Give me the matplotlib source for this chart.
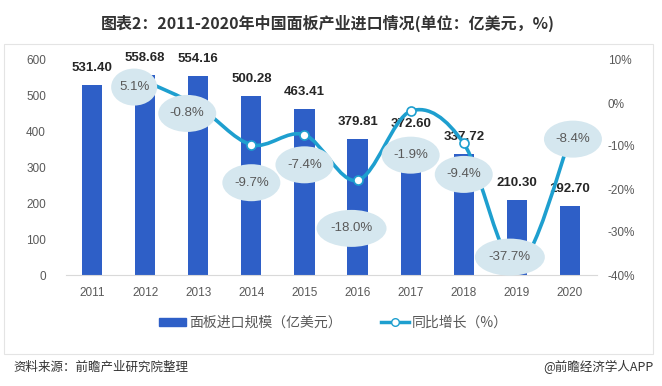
import matplotlib
matplotlib.use("Agg")
import matplotlib.pyplot as plt
from matplotlib.path import Path
from matplotlib.patches import PathPatch, Rectangle, Ellipse
from matplotlib.lines import Line2D
from matplotlib.ticker import FuncFormatter

plt.rcParams['font.family'] = ['Liberation Sans', 'Noto Sans CJK SC', 'DejaVu Sans']

# ---------------- data ----------------
years = ['2011', '2012', '2013', '2014', '2015', '2016', '2017', '2018', '2019', '2020']
import_scale = [531.40, 558.68, 554.16, 500.28, 463.41, 379.81, 372.60, 337.72, 210.30, 192.70]
growth_years = ['2012', '2013', '2014', '2015', '2016', '2017', '2018', '2019', '2020']
growth = [5.1, -0.8, -9.7, -7.4, -18.0, -1.9, -9.4, -37.7, -8.4]

# label offsets (pixels) of the growth bubbles relative to their points
bubble_offsets = [(-11, -6), (-11, -7), (0, -38), (0, -30), (-6, -48),
                  (0, -44), (0, -31), (-7, 8), (3, 0)]

BAR_C = '#2E5FC7'
LINE_C = '#1E9FCF'
BUBBLE_C = '#D5E7EF'
TXT_C = '#595959'

W, H = 662, 386
fig = plt.figure(figsize=(W / 100, H / 100), dpi=100)

# panel frame
fig.patches.append(Rectangle((4 / W, 1 - 354 / H), 649 / W, 310 / H,
                             transform=fig.transFigure, fill=False,
                             ec='#e4e4e4', lw=0.8))

ax = fig.add_axes([65.5 / W, 1 - 275 / H, 531 / W, 215 / H])
ax2 = ax.twinx()

x = list(range(len(years)))
ax.bar(x, import_scale, width=0.38, color=BAR_C, zorder=2)
ax.set_xlim(-0.5, len(years) - 0.5)
ax.set_ylim(0, 600)
ax.set_yticks(range(0, 601, 100))
ax.set_xticks(x)
ax.set_xticklabels(years)
ax.tick_params(axis='both', length=0, colors=TXT_C, labelsize=8.5)
ax.tick_params(axis='y', pad=14)
ax.tick_params(axis='x', pad=9)
for s in ['top', 'left', 'right']:
    ax.spines[s].set_visible(False)
ax.spines['bottom'].set_color('#d9d9d9')

for xi, v in zip(x, import_scale):
    ax.annotate(f'{v:.2f}', (xi, v), xytext=(0, 17), textcoords='offset pixels',
                ha='center', va='center', fontsize=9.5, fontweight='bold',
                color='#262626', zorder=3)

# growth line (smoothed, Excel-like)
ax2.set_ylim(-40, 10)
ax2.set_yticks(range(-40, 11, 10))
ax2.yaxis.set_major_formatter(FuncFormatter(lambda v, p: f'{v:.0f}%'))
ax2.tick_params(axis='y', length=0, colors=TXT_C, labelsize=8.5, pad=8)
for s in ['top', 'left', 'right', 'bottom']:
    ax2.spines[s].set_visible(False)

gx = [years.index(y) for y in growth_years]
pts = list(zip(gx, growth))
n = len(pts)
verts = [pts[0]]
codes = [Path.MOVETO]
for i in range(n - 1):
    p0 = pts[i - 1] if i > 0 else pts[i]
    p1 = pts[i]
    p2 = pts[i + 1]
    p3 = pts[i + 2] if i + 2 < n else pts[i + 1]
    c1 = (p1[0] + (p2[0] - p0[0]) / 6, p1[1] + (p2[1] - p0[1]) / 6)
    c2 = (p2[0] - (p3[0] - p1[0]) / 6, p2[1] - (p3[1] - p1[1]) / 6)
    verts += [c1, c2, p2]
    codes += [Path.CURVE4] * 3
ax2.add_patch(PathPatch(Path(verts, codes), fill=False, ec=LINE_C, lw=2.6,
                        zorder=4, capstyle='round', joinstyle='round',
                        clip_on=False))
ax2.plot(gx, growth, ls='none', marker='o', ms=6.5, mfc='white', mec=LINE_C,
         mew=1.2, zorder=5, clip_on=False)

# pixel scale of ax2 data units
(x0p, y0p), (x1p, y1p) = ax2.transData.transform([(0, 0), (1, 1)])
ppx = x1p - x0p
ppy = y1p - y0p
for (xi, v), (dx, dy) in zip(pts, bubble_offsets):
    lab = f'{v:.1f}%'
    cx = xi + dx / ppx
    cy = v + dy / ppy
    ew = (12 * len(lab) - 2) / ppx
    eh = 37 / ppy
    ax2.add_patch(Ellipse((cx, cy), ew, eh, fc=BUBBLE_C, ec='none', zorder=6,
                          clip_on=False))
    ax2.text(cx, cy, lab, ha='center', va='center', fontsize=9.5, color=TXT_C,
             zorder=7, clip_on=False)

ax.set_zorder(1)
ax2.set_zorder(2)

# legend
handles = [Rectangle((0, 0), 1, 1, color=BAR_C),
           Line2D([], [], color=LINE_C, lw=2.5, marker='o', ms=5.5,
                  mfc='white', mec=LINE_C, mew=1.0)]
fig.legend(handles, ['面板进口规模（亿美元）', '同比增长（%）'],
           loc='center', bbox_to_anchor=(333 / W, 1 - 323 / H), ncol=2,
           frameon=False, labelcolor=TXT_C, handlelength=2.0,
           handleheight=0.55, handletextpad=0.2, columnspacing=2.8,
           prop={'family': ['Noto Sans CJK SC'], 'size': 10})

# title and footer
fig.text(328 / W, 1 - 23 / H, '图表2：2011-2020年中国面板产业进口情况(单位：亿美元，%)',
         ha='center', va='center', fontsize=11.5, fontweight='bold', color='#333333',
         family=['Noto Sans CJK SC'])
fig.text(13 / W, 1 - 367 / H, '资料来源：前瞻产业研究院整理', ha='left', va='center',
         fontsize=9, color='#333333', family=['Noto Sans CJK SC'])
fig.text(653 / W, 1 - 367 / H, '@前瞻经济学人APP', ha='right', va='center',
         fontsize=9, color='#333333', family=['Noto Sans CJK SC', 'DejaVu Sans'])

fig.savefig('out.png', dpi=100)
